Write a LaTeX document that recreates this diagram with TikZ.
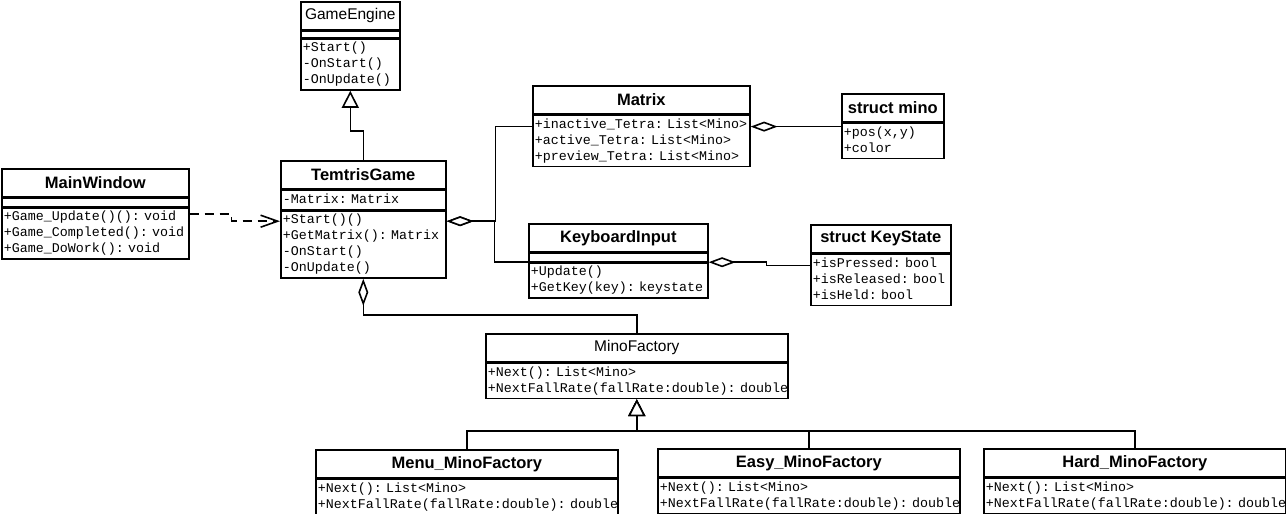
\documentclass[tikz,border=0pt]{standalone}
\usepackage{fontspec}
\setmainfont{Liberation Sans}
\newfontfamily\umlmono{Liberation Mono}
\usetikzlibrary{arrows.meta, positioning}

\begin{document}
\begin{tikzpicture}[
    x=1pt, y=-1pt,
    node distance=0pt,
    line width=1.6pt,
    classhead/.style={draw, anchor=north west, minimum height=28pt, inner sep=0pt, font=\fontsize{15.5}{18}\selectfont},
    bclasshead/.style={classhead, font=\bfseries\fontsize{16.5}{18}\selectfont},
    members/.style={draw, inner xsep=2pt, inner ysep=1.5pt, align=left, font={\umlmono\fontsize{13.33}{16}\selectfont\spaceskip=8pt\xspaceskip=8pt\hyphenpenalty=10000\exhyphenpenalty=10000}, execute at begin node=\strut, execute at end node=\strut},
    spacer/.style={draw, inner sep=0pt, minimum height=#1},
    inherit/.style={draw, -{Triangle[length=17pt,width=17pt,fill=white]}},
    aggr/.style={draw, {Diamond[length=27pt,width=10pt,fill=white]}-},
    depend/.style={draw, dash pattern=on 9pt off 6pt, -{Straight Barb[length=17pt,width=12pt]}}
]
    \useasboundingbox (0,0) rectangle (1286,514);

    \node (geh) [classhead, minimum width=99pt] at (300,1) {GameEngine};
    \node (ges) [spacer=6pt, minimum width=99pt, below=of geh] {};
    \node (gem) [members, text width=95pt, below=of ges] {+Start()\\-OnStart()\\-OnUpdate()};

    \node (mwh) [bclasshead, minimum width=187pt] at (1,168) {MainWindow};
    \node (mws) [spacer=8pt, minimum width=187pt, below=of mwh] {};
    \node (mwm) [members, text width=183pt, below=of mws] {+Game\_Update()():~void\\+Game\_Completed():~void\\+Game\_DoWork():~void};

    \node (tgh) [bclasshead, minimum width=165pt] at (280,160) {TemtrisGame};
    \node (tga) [members, text width=161pt, below=of tgh] {-Matrix:~Matrix};
    \node (tgm) [members, text width=161pt, below=of tga] {+Start()()\\+GetMatrix():~Matrix\\-OnStart()\\-OnUpdate()};

    \node (mxh) [bclasshead, minimum width=217pt] at (532,85) {Matrix};
    \node (mxa) [members, text width=213pt, below=of mxh] {+inactive\_Tetra:~List<Mino>\\+active\_Tetra:~List<Mino>\\+preview\_Tetra:~List<Mino>};

    \node (mnh) [bclasshead, minimum width=102pt] at (841,93) {struct mino};
    \node (mna) [members, text width=98pt, below=of mnh] {+pos(x,y)\\+color};

    \node (kbh) [bclasshead, minimum width=179pt] at (528,223) {KeyboardInput};
    \node (kbs) [spacer=8pt, minimum width=179pt, below=of kbh] {};
    \node (kbm) [members, text width=175pt, below=of kbs] {+Update()\\+GetKey(key):~keystate};

    \node (ksh) [bclasshead, minimum width=140pt] at (810,224) {struct KeyState};
    \node (ksa) [members, text width=136pt, below=of ksh] {+isPressed:~bool\\+isReleased:~bool\\+isHeld:~bool};

    \node (mfh) [classhead, minimum width=302pt] at (485,333) {MinoFactory};
    \node (mfm) [members, text width=298pt, below=of mfh] {+Next():~List<Mino>\\+NextFallRate(fallRate:double):~double};

    \node (menuh) [bclasshead, minimum width=302pt] at (315,449) {Menu\_MinoFactory};
    \node (menum) [members, text width=298pt, below=of menuh] {+Next():~List<Mino>\\+NextFallRate(fallRate:double):~double};

    \node (easyh) [bclasshead, minimum width=302pt] at (657,448) {Easy\_MinoFactory};
    \node (easym) [members, text width=298pt, below=of easyh] {+Next():~List<Mino>\\+NextFallRate(fallRate:double):~double};

    \node (hardh) [bclasshead, minimum width=302pt] at (983,448) {Hard\_MinoFactory};
    \node (hardm) [members, text width=298pt, below=of hardh] {+Next():~List<Mino>\\+NextFallRate(fallRate:double):~double};

    \draw[inherit] (tgh.north) -- ++(0,-29) -| (gem.south);
    \draw[depend] ([yshift=-7pt]mwm.north east) -- ++(42,0) |- ([yshift=-11pt]tgm.north west);

    \draw[aggr] ([yshift=-11pt]tgm.north east) -- ++(48,0) |- (kbm.north west);
    \draw[aggr] ([yshift=-11pt]tgm.north east) -- ++(49,0) |- ([yshift=-12pt]mxa.north west);
    \draw[aggr] ([yshift=-12pt]mxa.north east) -- ([yshift=-4pt]mna.north west);
    \draw[aggr] (kbm.north east) -- ++(58,0) |- ([yshift=-12pt]ksa.north west);
    \draw[aggr] (tgm.south) -- ++(0,36) -| (mfh.north);

    \draw[inherit] (menuh.north) -- ++(0,-18) -| (mfm.south);
    \draw[inherit] (easyh.north) -- ++(0,-17) -| (mfm.south);
    \draw[inherit] (hardh.north) -- ++(0,-17) -| (mfm.south);

\end{tikzpicture}
\end{document}
